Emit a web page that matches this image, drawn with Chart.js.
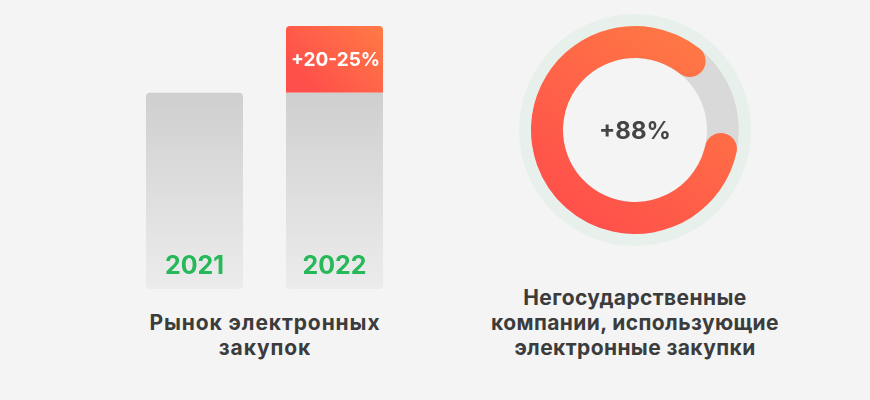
<!DOCTYPE html>
<html lang="ru">
<head>
    <meta charset="UTF-8">
    <title>Электронные закупки</title>
    <script src="https://cdn.jsdelivr.net/npm/chart.js"></script>
    <style>
        html, body { margin: 0; padding: 0; }
        body {
            width: 870px; height: 400px; overflow: hidden;
            background: #f4f4f4; position: relative;
            font-family: 'Inter', 'DejaVu Sans', sans-serif;
        }
        .box { position: absolute; }
        .caption {
            position: absolute; text-align: center; color: #3c3c3c;
            font-weight: 700; font-size: 21px; line-height: 25px; letter-spacing: 0.4px;
        }
        .center-label {
            position: absolute; left: 575px; top: 116px; width: 120px;
            text-align: center; font-weight: 700; font-size: 24px; color: #454545;
        }
        .cut-text {
            position: absolute; left: 57px; top: 393px;
            font-weight: 700; font-size: 30px; color: #f3d3d3; letter-spacing: 5px;
        }
    </style>
</head>
<body>
    <!-- Столбцы -->
    <div class="box" style="left:100px; top:0; width:330px; height:300px;">
        <canvas id="grafik1" width="330" height="300"></canvas>
    </div>
    <div class="caption" style="left:115px; top:310px; width:300px; letter-spacing:0.9px;">Рынок электронных<br>закупок</div>

    <!-- Кольцо -->
    <div class="box" style="left:515px; top:10px; width:240px; height:240px;">
        <canvas id="grafik2" width="240" height="240"></canvas>
    </div>
    <div class="box" style="left:515px; top:10px; width:240px; height:240px;">
        <canvas id="grafik3" width="240" height="240"></canvas>
    </div>
    <div class="center-label" id="donutLabel"></div>
    <div class="caption" style="left:465px; top:285px; width:340px;">Негосударственные<br>компании, использующие<br>электронные закупки</div>

    <div class="cut-text">2023</div>

    <script>
        // данные
        const years = ['2021', '2022'];
        const baseValues = [100, 100];
        const growthValues = [null, 34];
        const growthLabels = ['', '+20-25%'];
        const donutValues = [88, 12];
        const donutText = '+88%';

        document.getElementById('donutLabel').textContent = donutText;

        const FONT = "'Inter', 'DejaVu Sans', sans-serif";

        function grayGradient(context) {
            const chart = context.chart;
            const y = chart.scales.y;
            if (!chart.chartArea || !y) return '#dcdcdc';
            const g = chart.ctx.createLinearGradient(0, y.getPixelForValue(100), 0, y.getPixelForValue(0));
            g.addColorStop(0, '#cfcfcf');
            g.addColorStop(1, '#ececec');
            return g;
        }

        function redGradient(context) {
            const chart = context.chart;
            const y = chart.scales.y;
            if (!chart.chartArea || !y) return '#ff5f48';
            const top = y.getPixelForValue(134), bottom = y.getPixelForValue(100);
            const g = chart.ctx.createLinearGradient(chart.chartArea.right - 20, top, chart.chartArea.right - 90, bottom);
            g.addColorStop(0, '#ff7b45');
            g.addColorStop(1, '#ff4f4b');
            return g;
        }

        // подписи внутри столбцов
        const barLabels = {
            id: 'barLabels',
            afterDatasetsDraw(chart) {
                const ctx = chart.ctx;
                const x = chart.scales.x, y = chart.scales.y;
                ctx.save();
                ctx.textAlign = 'center';
                ctx.textBaseline = 'middle';
                years.forEach((yr, i) => {
                    ctx.fillStyle = '#27b85a';
                    ctx.font = '700 25px ' + FONT;
                    ctx.fillText(yr, x.getPixelForValue(i), y.getPixelForValue(0) - 23);
                    if (growthValues[i]) {
                        ctx.fillStyle = '#ffffff';
                        ctx.font = '700 19px ' + FONT;
                        const mid = y.getPixelForValue(baseValues[i] + growthValues[i] / 2);
                        ctx.fillText(growthLabels[i], x.getPixelForValue(i) + 1, mid + 1);
                    }
                });
                ctx.restore();
            }
        };

        new Chart(document.getElementById('grafik1'), {
            type: 'bar',
            data: {
                labels: years,
                datasets: [{
                    data: baseValues,
                    backgroundColor: grayGradient,
                    borderSkipped: false,
                    borderRadius: ctx => ctx.dataIndex === 0
                        ? 4
                        : { topLeft: 0, topRight: 0, bottomLeft: 4, bottomRight: 4 }
                }, {
                    data: growthValues,
                    backgroundColor: redGradient,
                    borderSkipped: false,
                    borderRadius: { topLeft: 4, topRight: 4, bottomLeft: 0, bottomRight: 0 }
                }]
            },
            options: {
                responsive: false,
                animation: false,
                layout: { padding: { left: 24.5, right: 25.5, top: 26, bottom: 11 } },
                datasets: { bar: { barPercentage: 0.693, categoryPercentage: 1 } },
                scales: {
                    x: { stacked: true, display: false },
                    y: { stacked: true, display: false, min: 0, max: 134 }
                },
                plugins: { legend: { display: false }, tooltip: { enabled: false } }
            },
            plugins: [barLabels]
        });

        // кольцо: фон и серая дорожка
        const ringOptions = {
            responsive: false,
            animation: false,
            cutout: '62.07%',
            layout: { padding: 4 },
            plugins: { legend: { display: false }, tooltip: { enabled: false } }
        };

        new Chart(document.getElementById('grafik2'), {
            type: 'doughnut',
            data: {
                datasets: [
                    { data: [1], backgroundColor: '#e8f0ec', borderWidth: 0, weight: 12 },
                    { data: [1], backgroundColor: '#d9d9d9', borderWidth: 0, weight: 32 }
                ]
            },
            options: ringOptions
        });

        function arcColor(context) {
            if (context.dataIndex !== 0) return 'rgba(0,0,0,0)';
            const chart = context.chart;
            if (!chart.chartArea) return '#ff5f48';
            const a = chart.chartArea;
            const g = chart.ctx.createLinearGradient(a.right - 30, a.top + 10, a.left + 50, a.bottom - 10);
            g.addColorStop(0, '#ff7d44');
            g.addColorStop(1, '#ff4c4b');
            return g;
        }

        // кольцо: доля
        new Chart(document.getElementById('grafik3'), {
            type: 'doughnut',
            data: {
                datasets: [
                    { data: [1], backgroundColor: 'rgba(0,0,0,0)', borderWidth: 0, weight: 12 },
                    {
                        data: donutValues,
                        backgroundColor: arcColor,
                        borderWidth: 0,
                        borderRadius: ctx => ctx.dataIndex === 0 ? 16 : 0,
                        weight: 32
                    }
                ]
            },
            options: Object.assign({}, ringOptions, { rotation: 92 })
        });
    </script>
</body>
</html>
